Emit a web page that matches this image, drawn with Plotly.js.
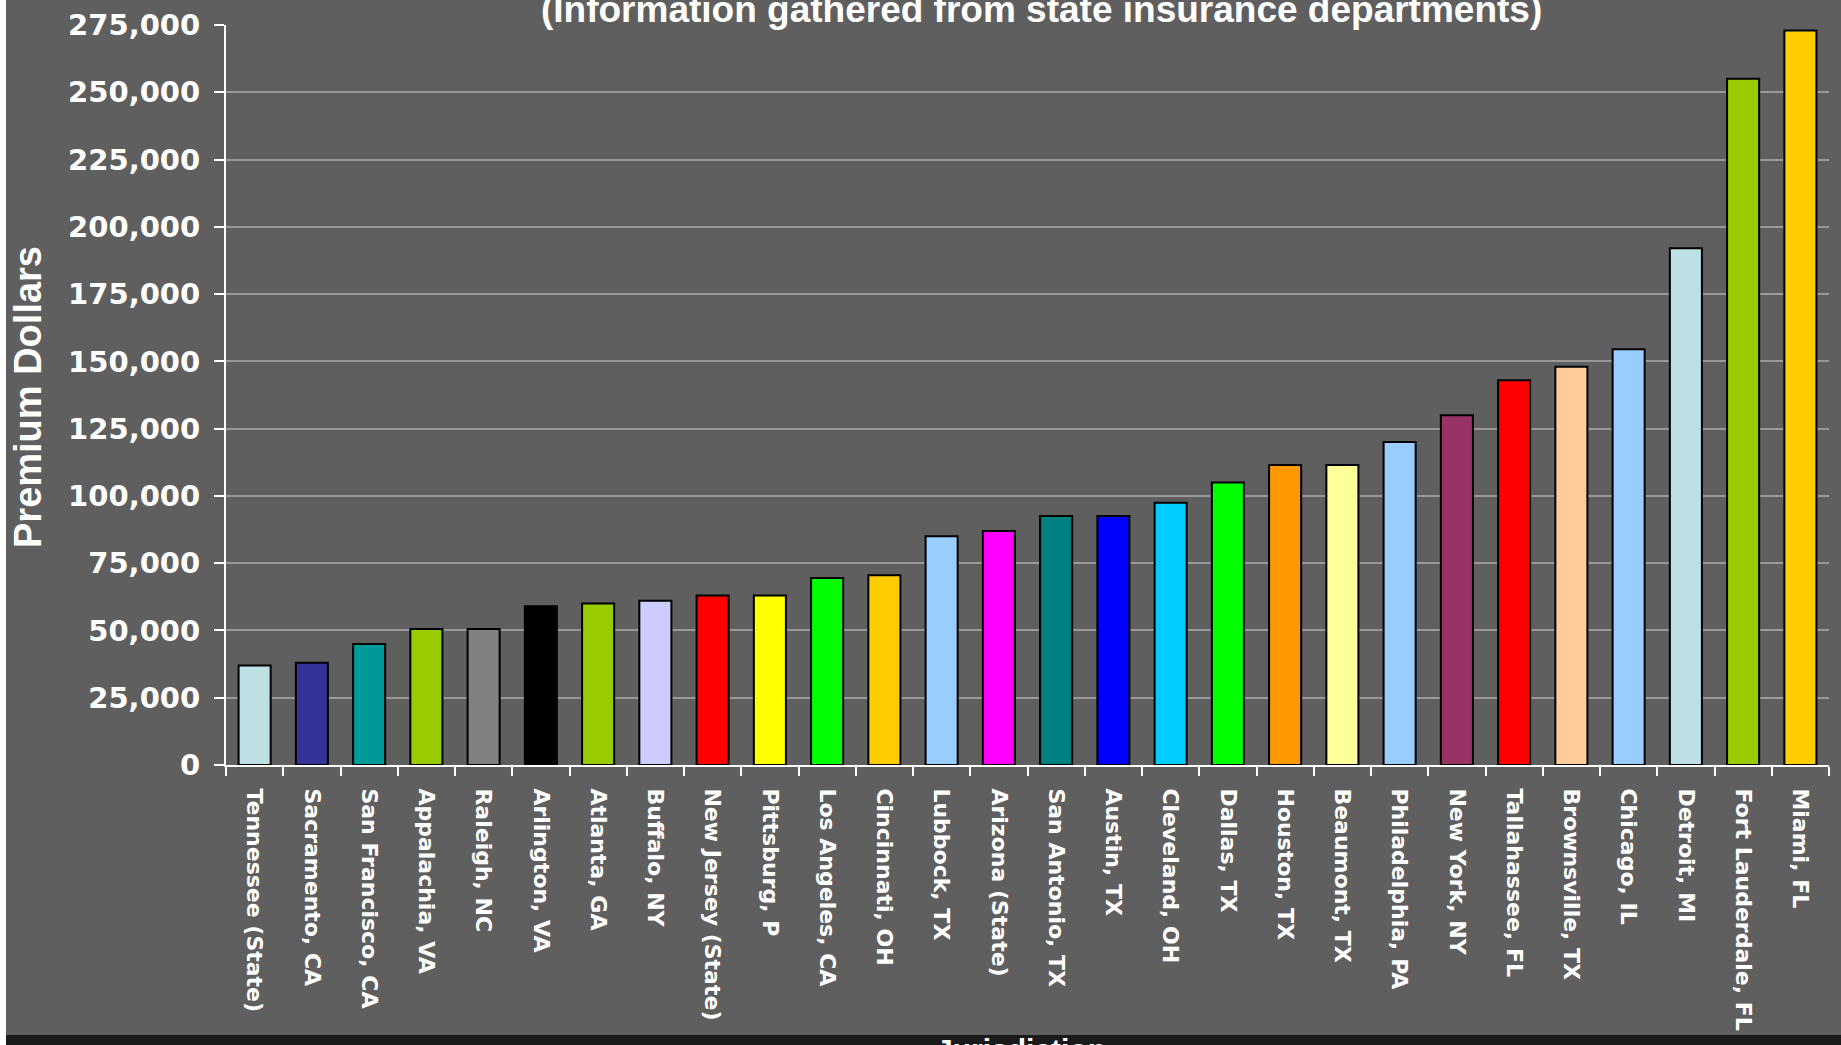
<!DOCTYPE html>
<html>
<head>
<meta charset="utf-8">
<script src="https://cdn.plot.ly/plotly-3.0.1.min.js"></script>
<style>
  html, body { margin: 0; padding: 0; background: #ffffff; }
  #chart { width: 1841px; height: 1045px; }
</style>
</head>
<body>
<div id="chart"></div>
<script>
const categories = [
  "Tennessee (State)", "Sacramento, CA", "San Francisco, CA", "Appalachia, VA",
  "Raleigh, NC", "Arlington, VA", "Atlanta, GA", "Buffalo, NY",
  "New Jersey (State)", "Pittsburg, P", "Los Angeles, CA", "Cincinnati, OH",
  "Lubbock, TX", "Arizona (State)", "San Antonio, TX", "Austin, TX",
  "Cleveland, OH", "Dallas, TX", "Houston, TX", "Beaumont, TX",
  "Philadelphia, PA", "New York, NY", "Tallahassee, FL", "Brownsville, TX",
  "Chicago, IL", "Detroit, MI", "Fort Lauderdale, FL", "Miami, FL"
];
const premiums = [
  37000, 38000, 45000, 50500,
  50500, 59000, 60000, 61000,
  63000, 63000, 69500, 70500,
  85000, 87000, 92500, 92500,
  97500, 105000, 111500, 111500,
  120000, 130000, 143000, 148000,
  154500, 192000, 255000, 273000
];
const barColors = [
  "#BCE0E3", "#333399", "#009999", "#99CC00",
  "#808080", "#000000", "#99CC00", "#CCCCFF",
  "#FF0000", "#FFFF00", "#00FF00", "#FFCC00",
  "#99CCFF", "#FF00FF", "#008080", "#0000FF",
  "#00CCFF", "#00FF00", "#FF9900", "#FFFF99",
  "#99CCFF", "#993366", "#FF0000", "#FFCC99",
  "#99CCFF", "#BCE0E3", "#99CC00", "#FFCC00"
];
const yTickVals = [0, 25000, 50000, 75000, 100000, 125000, 150000, 175000, 200000, 225000, 250000, 275000];
const yTickText = ["0", "25,000", "50,000", "75,000", "100,000", "125,000", "150,000", "175,000", "200,000", "225,000", "250,000", "275,000"];
const titleLine = "(Information gathered from state insurance departments)";
const yTitle = "Premium Dollars";
const xTitle = "Jurisdiction";

const W = 1841, H = 1045;
const M = { l: 226, r: 12, t: 25, b: 280 };
const PW = W - M.l - M.r, PH = H - M.t - M.b;
const px = x => (x - M.l) / PW;          // page x -> paper x
const py = y => (H - M.b - y) / PH;      // page y -> paper y

const trace = {
  type: "bar",
  x: categories,
  y: premiums,
  marker: { color: barColors, line: { color: "#000000", width: 2 } },
  hoverinfo: "x+y"
};

const layout = {
  width: W, height: H,
  margin: M,
  paper_bgcolor: "#5F5F5F",
  plot_bgcolor: "#5F5F5F",
  showlegend: false,
  bargap: 0.44,
  xaxis: {
    type: "category",
    tickson: "boundaries",
    ticks: "outside", ticklen: 9, tickwidth: 2, tickcolor: "#FFFFFF",
    showline: true, linecolor: "#FFFFFF", linewidth: 2,
    showgrid: false, zeroline: false,
    tickangle: 90,
    ticklabelstandoff: 17,
    tickfont: { family: "DejaVu Sans", size: 22, color: "#FFFFFF", weight: "bold" }
  },
  yaxis: {
    range: [0, 275000],
    tickmode: "array", tickvals: yTickVals, ticktext: yTickText,
    ticks: "outside", ticklen: 10, tickwidth: 2, tickcolor: "#FFFFFF",
    showline: true, linecolor: "#FFFFFF", linewidth: 2,
    showgrid: true, gridcolor: "#999999", gridwidth: 2,
    zeroline: false,
    ticklabelstandoff: 8,
    tickfont: { family: "DejaVu Sans", size: 29, color: "#FFFFFF", weight: "bold" }
  },
  shapes: [
    { type: "rect", xref: "paper", yref: "paper", x0: px(0), x1: px(6), y0: py(0), y1: py(1045),
      fillcolor: "#FFFFFF", line: { width: 0 }, layer: "above" },
    { type: "rect", xref: "paper", yref: "paper", x0: px(6), x1: px(1841), y0: py(1035), y1: py(1060),
      fillcolor: "#1A1A1A", line: { width: 0 }, layer: "below" }
  ],
  annotations: [
    { text: titleLine, xref: "paper", yref: "paper", x: px(1041), y: py(9),
      xanchor: "center", yanchor: "middle", showarrow: false,
      font: { family: "Liberation Sans", size: 37, color: "#FFFFFF", weight: "bold" } },
    { text: yTitle, xref: "paper", yref: "paper", x: px(28), y: py(397),
      xanchor: "center", yanchor: "middle", textangle: -90, showarrow: false,
      font: { family: "Liberation Sans", size: 38, color: "#FFFFFF", weight: "bold" } },
    { text: xTitle, xref: "paper", yref: "paper", x: px(1021), y: py(1031),
      xanchor: "center", yanchor: "top", showarrow: false,
      font: { family: "Liberation Sans", size: 30, color: "#FFFFFF", weight: "bold" } }
  ]
};

Plotly.newPlot("chart", [trace], layout, { displayModeBar: false, staticPlot: true });
</script>
</body>
</html>
